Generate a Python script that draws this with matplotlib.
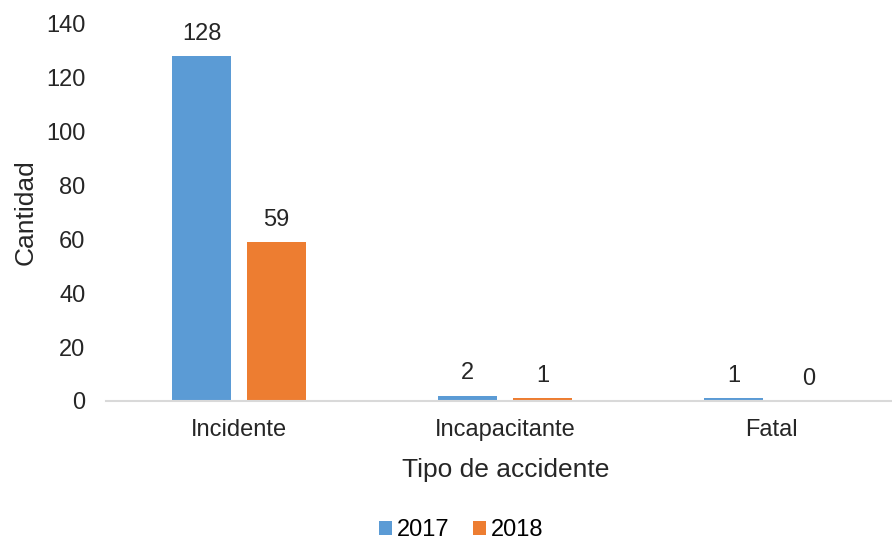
import matplotlib.pyplot as plt
import numpy as np

plt.rcParams['font.family'] = ['Liberation Sans', 'DejaVu Sans']

categorias = ['Incidente', 'Incapacitante', 'Fatal']
anios = ['2017', '2018']
valores_2017 = [128, 2, 1]
valores_2018 = [59, 1, 0]

azul = '#5B9BD5'
naranja = '#ED7D31'
texto = '#262626'

fig = plt.figure(figsize=(8.92, 5.44), dpi=100)
ax = fig.add_axes([0.119, 0.263, 0.895, 0.693])

x = np.arange(len(categorias))
ancho = 0.222
desp = 0.141

b1 = ax.bar(x - desp, valores_2017, ancho, color=azul, label=anios[0])
b2 = ax.bar(x + desp, valores_2018, ancho, color=naranja, label=anios[1])

# etiquetas de valor sobre cada barra
for barras in (b1, b2):
    for b in barras:
        h = b.get_height()
        ax.annotate(f'{h:g}', (b.get_x() + b.get_width() / 2, h),
                    xytext=(0, 8), textcoords='offset points',
                    ha='center', va='bottom', fontsize=17, color=texto)

ax.set_xlim(-0.5, 2.5)
ax.set_ylim(0, 140)
ax.set_yticks(range(0, 141, 20))
ax.set_xticks(x)
ax.set_xticklabels(categorias)
ax.tick_params(axis='both', length=0, labelsize=17, colors=texto)
ax.tick_params(axis='y', pad=15)
ax.tick_params(axis='x', pad=13)

for lado in ['top', 'right', 'left']:
    ax.spines[lado].set_visible(False)
ax.spines['bottom'].set_color('#D9D9D9')
ax.spines['bottom'].set_linewidth(1.5)

ax.set_xlabel('Tipo de accidente', fontsize=19, color=texto, labelpad=12)
ax.set_ylabel('Cantidad', fontsize=19, color=texto, labelpad=6)

fig.legend(handles=[b1, b2], loc='center', bbox_to_anchor=(0.517, 0.025),
           ncol=2, frameon=False, fontsize=17, handlelength=0.55,
           handleheight=0.55, handletextpad=0.2, columnspacing=1.0,
           borderpad=0.2)

fig.savefig('out.png', dpi=100)
